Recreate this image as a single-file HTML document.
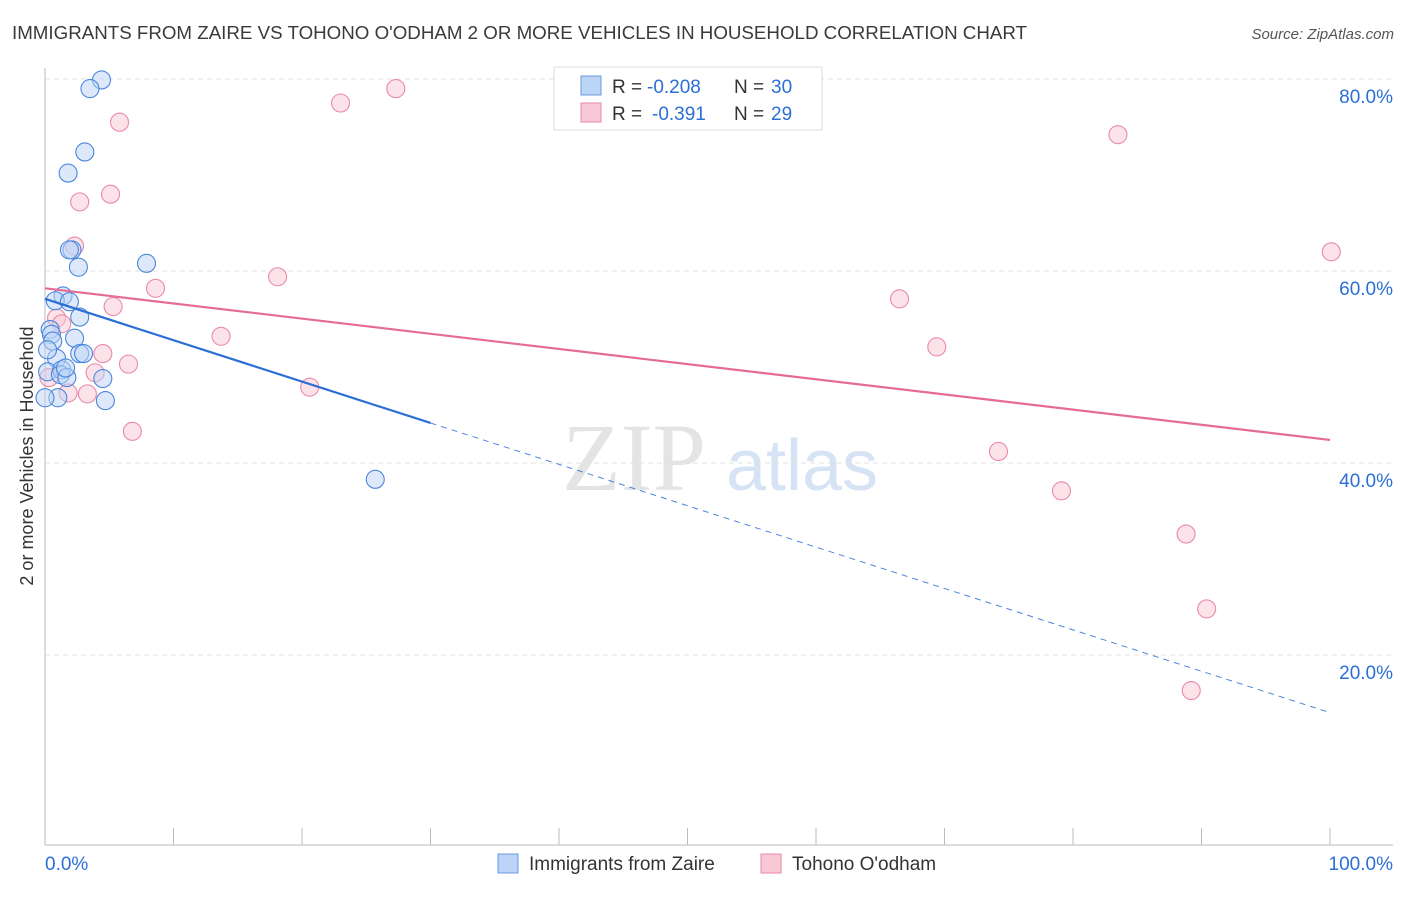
<!DOCTYPE html>
<html><head><meta charset="utf-8"><style>
body{margin:0;background:#fff;font-family:"Liberation Sans",sans-serif;}
</style></head><body>
<svg id="c" width="1406" height="892" xmlns="http://www.w3.org/2000/svg" font-family="Liberation Sans, sans-serif">
<text x="12" y="39" font-size="18" fill="#3a3a3a" textLength="1015" lengthAdjust="spacingAndGlyphs">IMMIGRANTS FROM ZAIRE VS TOHONO O'ODHAM 2 OR MORE VEHICLES IN HOUSEHOLD CORRELATION CHART</text>
<text x="1394" y="39" font-size="15" font-style="italic" fill="#555" text-anchor="end">Source: ZipAtlas.com</text>
<g><text x="634" y="490" font-size="96" font-family="Liberation Serif, serif" fill="#e4e4e4" text-anchor="middle">ZIP</text><text x="802" y="490" font-size="72" fill="#d6e3f4" text-anchor="middle">atlas</text></g>
<text transform="translate(33,456) rotate(-90)" font-size="18" fill="#333" text-anchor="middle">2 or more Vehicles in Household</text>
<g id="grid"></g><g id="axes"></g><g id="pts"></g><g id="lines"></g>
<g>
<rect x="554" y="67" width="268" height="63" fill="#fff" stroke="#ddd"/>
<rect x="581" y="76" width="20" height="19" fill="#bcd4f5" stroke="#6a9ae0"/>
<rect x="581" y="103" width="20" height="19" fill="#f9c8d6" stroke="#e88aa8"/>
<text x="612" y="93" font-size="19" fill="#333">R =</text>
<text x="647" y="93" font-size="19" fill="#2b6fd6">-0.208</text>
<text x="734" y="93" font-size="19" fill="#333">N =</text>
<text x="771" y="93" font-size="19" fill="#2b6fd6">30</text>
<text x="612" y="120" font-size="19" fill="#333">R =</text>
<text x="652" y="120" font-size="19" fill="#2b6fd6">-0.391</text>
<text x="734" y="120" font-size="19" fill="#333">N =</text>
<text x="771" y="120" font-size="19" fill="#2b6fd6">29</text>
</g>
<g>
<rect x="498" y="854" width="20" height="19" fill="#bcd4f5" stroke="#6a9ae0"/>
<text x="529" y="870" font-size="19" fill="#333">Immigrants from Zaire</text>
<rect x="761" y="854" width="20" height="19" fill="#f9c8d6" stroke="#e88aa8"/>
<text x="792" y="870" font-size="19" fill="#333">Tohono O'odham</text>
</g>
</svg>
<script>
const yTicks=[20,40,60,80];
const blueX=[4.4,3.5,3.1,1.8,2.1,1.9,2.6,7.9,1.4,0.8,1.9,2.7,0.4,0.5,0.6,2.3,0.9,2.7,3.0,0.2,1.3,1.2,1.7,4.5,1.0,4.7,0.0,25.7,0.2,1.6];
const blueY=[79.9,79.0,72.4,70.2,62.2,62.2,60.4,60.8,57.4,56.9,56.8,55.2,53.9,53.4,52.7,53.0,50.9,51.4,51.4,49.5,49.7,49.2,48.9,48.8,46.8,46.5,46.8,38.3,51.8,49.9];
const pinkX=[5.8,23.0,27.3,5.1,2.7,2.3,18.1,8.6,5.3,0.9,1.3,13.7,6.5,4.5,3.9,0.3,3.3,1.8,6.8,20.6,66.5,69.4,83.5,100.1,74.2,79.1,88.8,90.4,89.2];
const pinkY=[75.5,77.5,79.0,68.0,67.2,62.6,59.4,58.2,56.3,55.1,54.5,53.2,50.3,51.4,49.4,48.9,47.2,47.3,43.3,47.9,57.1,52.1,74.2,62.0,41.2,37.1,32.6,24.8,16.3];
const blueTrend=[57.1,14.0];
const blueSolidEnd=30;
const pinkTrend=[58.2,42.4];
const NS="http://www.w3.org/2000/svg";
const sx=v=>45+v*12.85, sy=v=>847-v*9.6;
function mk(t,a,p){const e=document.createElementNS(NS,t);for(const k in a)e.setAttribute(k,a[k]);p.appendChild(e);return e;}
const grid=document.getElementById('grid'),axes=document.getElementById('axes'),pts=document.getElementById('pts'),lines=document.getElementById('lines');
yTicks.forEach(t=>{
 const l=mk('line',{x1:45,x2:1393,y1:sy(t),y2:sy(t),stroke:'#e2e2e2','stroke-dasharray':'5,4'},grid);
 
 
 const tx=mk('text',{x:1393,y:sy(t)+24,'font-size':19,fill:'#2b6fd6','text-anchor':'end'},grid);
 tx.textContent=t.toFixed(1)+'%';
 
 
});
const ax=mk('line',{x1:45,x2:1393,y1:845,y2:845,stroke:'#bbb'},axes);


const ay=mk('line',{x1:45,x2:45,y1:68,y2:845,stroke:'#bbb'},axes);


for(let i=0;i<=10;i++){const t=mk('line',{x1:sx(i*10),x2:sx(i*10),y1:828,y2:845,stroke:'#bbb'},axes);
 
 }
[[0,'0.0%','start',45],[100,'100.0%','end',1393]].forEach(d=>{const t=mk('text',{x:d[3],y:870,'font-size':19,fill:'#2b6fd6','text-anchor':d[2]},axes);t.textContent=d[1];
 
 });
function dots(X,Y,fill,stroke,name){X.forEach((x,i)=>{const c=mk('circle',{cx:sx(x),cy:sy(Y[i]),r:9,fill:fill,'fill-opacity':0.5,stroke:stroke,'stroke-width':1.1},pts);
 
 });}
dots(pinkX,pinkY,'#f9c8d6','#e88aa8','tohono-point');
dots(blueX,blueY,'#bcd4f5','#4a86dc','zaire-point');
const bAt=x=>blueTrend[0]+(blueTrend[1]-blueTrend[0])*x/100;
const pl=mk('line',{x1:sx(0),y1:sy(pinkTrend[0]),x2:sx(100),y2:sy(pinkTrend[1]),stroke:'#e56a94','stroke-width':2.2},lines);


const bl=mk('line',{x1:sx(0),y1:sy(bAt(0)),x2:sx(blueSolidEnd),y2:sy(bAt(blueSolidEnd)),stroke:'#2b6fd6','stroke-width':2.2},lines);


const bd=mk('line',{x1:sx(blueSolidEnd),y1:sy(bAt(blueSolidEnd)),x2:sx(100),y2:sy(bAt(100)),stroke:'#4a86dc','stroke-width':1,'stroke-dasharray':'6,5'},lines);


</script>
</body></html>
